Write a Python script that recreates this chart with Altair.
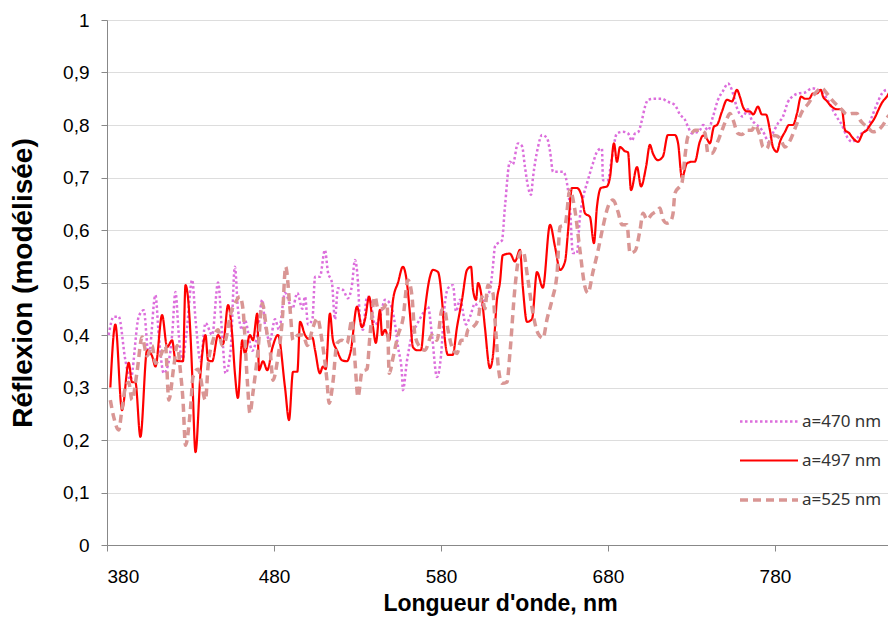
import altair as alt
import pandas as pd

# ---- data ----
names = ["a=470 nm", "a=497 nm", "a=525 nm"]
colors = ["#DC6EDC", "#FF0000", "#D99694"]

nm_470 = [381, 384, 387, 391, 394, 399, 402, 405, 409, 411, 414, 417, 419, 421, 423, 425, 427.5, 431, 433, 436,
          439, 443, 446.5, 449, 451, 454, 456.6, 458.4, 461, 462.6, 467, 470, 473, 474.6, 477.6, 480.6, 483, 486.6,
          491, 494, 497, 498.6, 500.4, 503, 504.6, 507.5, 510.5, 512.3, 514.7, 516.5, 518.3, 521.3, 524.3, 526.7,
          528.5, 530.3, 531.5, 533.3, 535.7, 537.5, 540.5, 543.5, 546.5, 549.5, 552.5, 554.3, 556.6, 557.2, 559.6,
          562.6, 565.6, 569.2, 572.2, 574.6, 577.6, 580, 582, 584.2, 587.2, 589, 591.4, 595, 597.4, 600.4, 603,
          606.3, 609.3, 611.1, 612.3, 614.1, 616.5, 618.3, 621.3, 623, 626.1, 628.5, 630.3, 632.1, 633.9, 635.1,
          638.1, 640.5, 643.5, 645.3, 647.1, 650.1, 653.1, 655.4, 657.2, 659, 661.4, 663.2, 665, 668, 671, 674,
          676.4, 677, 680, 682, 685.4, 689, 692, 694.4, 696.2, 698, 700.4, 702.2, 704, 708, 712.3, 715.3, 720.1,
          723.1, 726.1, 727.9, 730.3, 732, 735, 737, 739.9, 742.9, 745.9, 748.9, 751.9, 753.1, 754.9, 757, 760.8,
          763.8, 766, 768, 771, 774, 775.8, 778.8, 781.8, 784.8, 787.8, 790.8, 793.8, 798, 802.2, 805, 808.1,
          811.1, 814.1, 817.1, 820.1, 823.1, 826.1, 829.1, 832.1, 835.1, 838.1, 841.1, 844.1, 847.1, 850.1]
val_470 = [0.40, 0.435, 0.435, 0.352, 0.314, 0.435, 0.447, 0.36, 0.476, 0.40, 0.327, 0.35, 0.40, 0.482, 0.40,
           0.35, 0.40, 0.505, 0.43, 0.35, 0.423, 0.40, 0.50, 0.40, 0.327, 0.37, 0.53, 0.45, 0.41, 0.428, 0.37,
           0.40, 0.467, 0.42, 0.39, 0.43, 0.41, 0.48, 0.45, 0.48, 0.45, 0.473, 0.42, 0.43, 0.511, 0.511, 0.562,
           0.52, 0.50, 0.43, 0.489, 0.486, 0.47, 0.495, 0.543, 0.50, 0.43, 0.41, 0.473, 0.467, 0.42, 0.435,
           0.467, 0.46, 0.42, 0.377, 0.327, 0.295, 0.35, 0.40, 0.42, 0.441, 0.454, 0.40, 0.32, 0.36, 0.45,
           0.489, 0.495, 0.445, 0.467, 0.42, 0.435, 0.46, 0.45, 0.467, 0.486, 0.53, 0.568, 0.575, 0.58, 0.644,
           0.73, 0.725, 0.765, 0.76, 0.72, 0.683, 0.667, 0.70, 0.758, 0.781, 0.775, 0.75, 0.711, 0.711, 0.711,
           0.69, 0.644, 0.556, 0.556, 0.625, 0.66, 0.695, 0.727, 0.752, 0.755, 0.695, 0.695, 0.73, 0.784, 0.787,
           0.784, 0.77, 0.784, 0.786, 0.81, 0.835, 0.848, 0.85, 0.85, 0.845, 0.838, 0.82, 0.81, 0.797, 0.784,
           0.785, 0.79, 0.80, 0.79, 0.816, 0.848, 0.865, 0.879, 0.875, 0.86, 0.835, 0.816, 0.83, 0.81, 0.803,
           0.795, 0.781, 0.768, 0.785, 0.803, 0.816, 0.844, 0.855, 0.86, 0.862, 0.87, 0.868, 0.862, 0.85, 0.832,
           0.815, 0.80, 0.778, 0.768, 0.775, 0.785, 0.792, 0.816, 0.84, 0.86, 0.867, 0.865]

nm_497 = [382, 385, 389, 393, 395, 397, 400, 404, 407, 409, 413, 416, 419, 421, 424, 425.5, 427, 430, 431, 433,
          436, 439, 440.5, 443, 446.5, 449.5, 452.5, 455, 456.6, 458.4, 461, 462.6, 465.6, 467.4, 470, 471,
          473.4, 476, 479, 482.4, 486.6, 489, 491.4, 494, 495.6, 498.6, 500.4, 503, 504.6, 507.5, 509.3, 511,
          513.5, 515.3, 517.7, 520.7, 523.7, 526, 529.7, 532.7, 534.5, 537, 539.3, 541, 543.5, 544.7, 546.5, 549,
          551.3, 554.3, 557.2, 559.6, 561.4, 563.2, 565.6, 568, 570.4, 573.4, 575.2, 578.2, 580.6, 582.4, 584.2,
          587, 589.6, 592.6, 595.6, 598, 599.2, 601, 602.2, 604.6, 606.3, 609.3, 611.1, 613.5, 615.3, 617,
          621.3, 624.3, 627.3, 629, 631.5, 634.5, 637.5, 641, 645.3, 648.3, 651.3, 654.3, 656, 658.4, 661.4,
          664.4, 666.2, 669.2, 671.6, 673.4, 675.8, 679.4, 681.2, 683.6, 685.4, 687.2, 690.2, 692, 693.8, 697.4,
          699.8, 702.8, 705.1, 706.9, 709.9, 712.9, 715.9, 720.1, 722, 724.3, 727.3, 730.3, 732, 735, 737, 739,
          741, 743.5, 745.3, 748.3, 751.3, 754.3, 757.2, 759, 760.8, 763.2, 765, 767, 769.8, 772.2, 774.6, 777,
          778.8, 781.2, 783, 786, 788.4, 790.8, 793.2, 795.6, 798, 800.4, 802.8, 805, 807.5, 808.7, 811, 814,
          817, 820, 822, 824.3, 826.7, 829.7, 832.7, 835, 837, 840, 841.7, 844, 847, 849, 851.3]
val_497 = [0.30, 0.42, 0.257, 0.347, 0.31, 0.31, 0.206, 0.371, 0.36, 0.34, 0.438, 0.377, 0.39, 0.352, 0.35, 0.35,
           0.495, 0.40, 0.327, 0.177, 0.327, 0.40, 0.352, 0.35, 0.40, 0.383, 0.457, 0.40, 0.327, 0.28, 0.39,
           0.365, 0.40, 0.39, 0.441, 0.333, 0.35, 0.333, 0.375, 0.40, 0.30, 0.238, 0.33, 0.33, 0.425, 0.40,
           0.393, 0.395, 0.371, 0.327, 0.34, 0.335, 0.441, 0.39, 0.371, 0.352, 0.35, 0.37, 0.454, 0.415, 0.43,
           0.473, 0.415, 0.385, 0.448, 0.40, 0.41, 0.39, 0.467, 0.50, 0.53, 0.50, 0.441, 0.377, 0.371, 0.371,
           0.448, 0.511, 0.524, 0.52, 0.467, 0.39, 0.362, 0.362, 0.415, 0.467, 0.524, 0.53, 0.486, 0.467, 0.499,
           0.467, 0.415, 0.337, 0.36, 0.467, 0.50, 0.552, 0.555, 0.54, 0.562, 0.492, 0.425, 0.43, 0.52, 0.49,
           0.61, 0.568, 0.524, 0.54, 0.594, 0.68, 0.68, 0.663, 0.632, 0.625, 0.575, 0.644, 0.68, 0.683, 0.70,
           0.765, 0.73, 0.758, 0.75, 0.748, 0.676, 0.72, 0.683, 0.72, 0.762, 0.746, 0.733, 0.74, 0.781, 0.781,
           0.765, 0.699, 0.727, 0.73, 0.73, 0.768, 0.78, 0.775, 0.765, 0.797, 0.80, 0.826, 0.848, 0.845, 0.867,
           0.854, 0.835, 0.826, 0.826, 0.82, 0.835, 0.82, 0.82, 0.79, 0.758, 0.749, 0.768, 0.787, 0.80, 0.80,
           0.822, 0.854, 0.85, 0.85, 0.86, 0.86, 0.867, 0.855, 0.846, 0.835, 0.83, 0.83, 0.79, 0.785, 0.775,
           0.768, 0.785, 0.79, 0.80, 0.815, 0.827, 0.842, 0.854, 0.863, 0.855]

nm_525 = [382, 384, 387, 389, 391, 393, 395, 398, 401, 404, 407, 409, 412, 415, 417, 420, 422, 424, 425.5, 427,
          430, 431.5, 434.5, 439, 440.5, 443.5, 446.5, 449, 451, 454, 456.6, 459.6, 461.4, 464, 465.6, 467.4,
          470.4, 473, 476, 477.6, 479.4, 482, 485, 487, 489.6, 491.4, 494.4, 497.4, 500, 503.4, 506, 508.7,
          511.7, 513, 515.3, 517.7, 520.7, 523.7, 526.7, 528.5, 530.3, 532.7, 535.7, 537.5, 540.5, 542.3, 545,
          547.7, 549, 551.5, 554.3, 557.2, 560.2, 562.6, 564.4, 567.4, 570.4, 574.6, 577.6, 580.6, 582, 584.2,
          586.6, 589.6, 592, 594.4, 596.2, 599.2, 602.2, 604.6, 606.3, 608.1, 611.1, 612.3, 613.5, 614.1, 616.5,
          619.5, 621.3, 624.3, 627.3, 629.1, 632.1, 635.1, 638.1, 641.1, 643.5, 646.5, 649.5, 651.3, 654.3,
          657.2, 660.2, 663.2, 666.2, 668, 671, 674, 677, 680, 683, 686, 688.4, 691.4, 693.2, 696.2, 699.2, 701,
          703.4, 706.3, 709.9, 711.1, 713, 715.3, 717.1, 718.9, 720.1, 724.3, 726.1, 727.9, 730.3, 732.1, 735.1,
          738.1, 739.9, 742.3, 745.3, 748.3, 751.3, 753.1, 754.9, 757.8, 760.2, 763.2, 766.2, 768, 769.8, 771,
          772.8, 775.2, 777, 780, 783, 786, 789, 793.2, 796.8, 799.8, 804, 808.1, 811.1, 814.1, 817.1, 820.1,
          823.1, 826.1, 829.1, 830.9, 832.7, 835.7, 838.7, 841.7, 844.7, 847.7, 850.7]
val_525 = [0.276, 0.244, 0.219, 0.26, 0.30, 0.31, 0.276, 0.33, 0.396, 0.36, 0.38, 0.346, 0.36, 0.38, 0.276, 0.34,
           0.38, 0.33, 0.276, 0.19, 0.26, 0.32, 0.335, 0.276, 0.34, 0.39, 0.41, 0.38, 0.39, 0.44, 0.46, 0.473,
           0.45, 0.314, 0.251, 0.29, 0.37, 0.46, 0.40, 0.375, 0.314, 0.35, 0.43, 0.53, 0.45, 0.39, 0.40, 0.40,
           0.38, 0.415, 0.432, 0.39, 0.314, 0.27, 0.31, 0.384, 0.39, 0.384, 0.429, 0.35, 0.282, 0.33, 0.335,
           0.40, 0.473, 0.45, 0.45, 0.46, 0.327, 0.36, 0.40, 0.43, 0.505, 0.475, 0.40, 0.377, 0.371, 0.40, 0.39,
           0.448, 0.45, 0.41, 0.377, 0.365, 0.39, 0.39, 0.41, 0.415, 0.43, 0.473, 0.45, 0.495, 0.48, 0.43, 0.377,
           0.347, 0.308, 0.31, 0.366, 0.49, 0.556, 0.56, 0.505, 0.441, 0.403, 0.394, 0.43, 0.467, 0.517, 0.606,
           0.61, 0.676, 0.638, 0.562, 0.492, 0.48, 0.52, 0.56, 0.606, 0.644, 0.657, 0.635, 0.61, 0.61, 0.556,
           0.56, 0.60, 0.632, 0.62, 0.63, 0.638, 0.642, 0.62, 0.613, 0.615, 0.63, 0.67, 0.69, 0.74, 0.778, 0.785,
           0.79, 0.79, 0.785, 0.746, 0.746, 0.765, 0.79, 0.813, 0.822, 0.81, 0.784, 0.782, 0.79, 0.79, 0.80,
           0.79, 0.78, 0.758, 0.755, 0.77, 0.78, 0.775, 0.758, 0.77, 0.803, 0.829, 0.84, 0.86, 0.87, 0.86, 0.848,
           0.838, 0.829, 0.82, 0.822, 0.822, 0.81, 0.803, 0.795, 0.787, 0.79, 0.80, 0.816, 0.825]

x_ticks = [380, 480, 580, 680, 780]
y_ticks = [0, 0.1, 0.2, 0.3, 0.4, 0.5, 0.6, 0.7, 0.8, 0.9, 1.0]

frames = []
for name, xs, ys in [(names[0], nm_470, val_470), (names[1], nm_497, val_497), (names[2], nm_525, val_525)]:
    frames.append(pd.DataFrame({"nm": xs, "r": ys, "series": name}))
df = pd.concat(frames, ignore_index=True)

FONT = "Noto Sans"
leg = alt.Legend(
    title=None, orient="none", legendX=631, legendY=371,
    symbolType="stroke", symbolSize=3364, labelFontSize=17, labelFont=FONT,
    labelColor="#333333", labelOffset=2, rowPadding=0,
)

chart = alt.Chart(df).mark_line(interpolate="monotone", clip=True).encode(
    x=alt.X("nm:Q", scale=alt.Scale(domain=[380, 847.7], nice=False, zero=False),
            axis=alt.Axis(values=x_ticks, title="Longueur d'onde, nm", grid=False,
                          labelFontSize=19, titleFontSize=23, tickSize=6, labelPadding=16,
                          titleY=58, titleBaseline="middle", titleX=393)),
    y=alt.Y("r:Q", scale=alt.Scale(domain=[0, 1], nice=False),
            axis=alt.Axis(values=y_ticks, title="Réflexion (modélisée)",
                          labelExpr="replace(format(datum.value, '.1~f'), '.', ',')",
                          labelFontSize=19, titleFontSize=28, tickSize=6, labelPadding=12,
                          titleX=-84, titleBaseline="middle")),
    color=alt.Color("series:N", scale=alt.Scale(domain=names, range=colors), legend=leg),
    strokeDash=alt.StrokeDash("series:N", scale=alt.Scale(domain=names, range=[[2.5, 2.5], [1, 0], [8, 5]]),
                              legend=leg),
    strokeWidth=alt.StrokeWidth("series:N", scale=alt.Scale(type="ordinal", domain=names, range=[2.5, 2.2, 3.5]),
                                legend=leg),
    order=alt.Order("nm:Q"),
).properties(
    width=781, height=525,
    autosize=alt.AutoSizeParams(type="none"),
    padding={"left": 99, "top": 12, "right": 0, "bottom": 74},
).configure_view(stroke=None).configure_axis(
    labelFont=FONT, titleFont=FONT, labelColor="#333333", titleColor="#222222",
    titleFontWeight="bold", domainColor="#868686", tickColor="#868686", gridColor="#D9D9D9",
    gridWidth=1.2,
).configure(background="white")

chart.save("out.html", embed_options={"renderer": "svg", "actions": False})
